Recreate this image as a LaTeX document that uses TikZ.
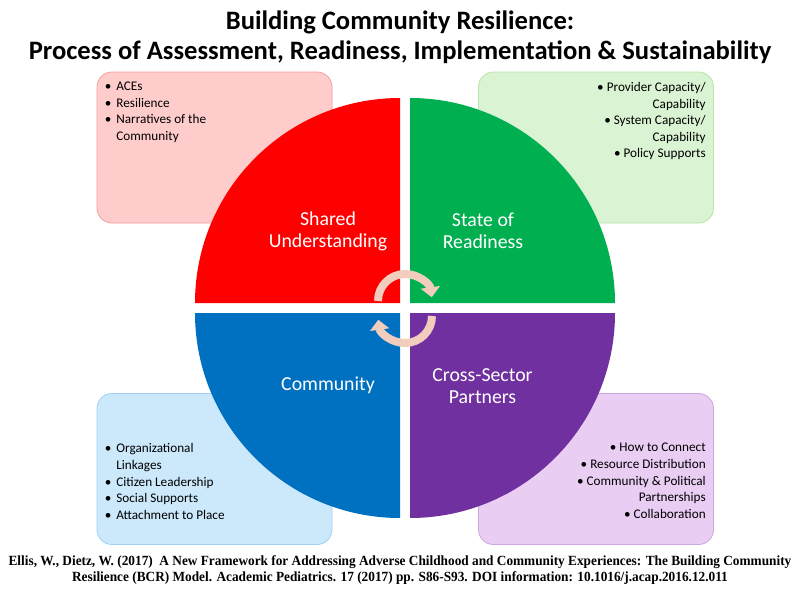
\documentclass[tikz,border=0pt]{standalone}
\usepackage{fontspec}
\setmainfont{Carlito}
\newfontfamily\citefont[FakeStretch=0.95]{Liberation Serif}
\usetikzlibrary{positioning, arrows.meta}

\definecolor{qred}{HTML}{FF0000}
\definecolor{qgreen}{HTML}{00B050}
\definecolor{qblue}{HTML}{0070C0}
\definecolor{qpurple}{HTML}{7030A0}
\definecolor{boxred}{HTML}{FFCCCC}
\definecolor{edgered}{HTML}{F4A0A0}
\definecolor{boxgreen}{HTML}{D9F3D3}
\definecolor{edgegreen}{HTML}{B8E6A8}
\definecolor{boxblue}{HTML}{CCE9FC}
\definecolor{edgeblue}{HTML}{9DD2F4}
\definecolor{boxpurple}{HTML}{E9CDF3}
\definecolor{edgepurple}{HTML}{CCA6DE}
\definecolor{arrowpeach}{HTML}{F2CDBE}

\tikzset{
  infobox/.style={rounded corners=15pt, minimum width=235pt, minimum height=151pt, line width=0.8pt, inner sep=0pt},
  itemlist/.style={inner sep=0pt, font=\fontsize{13.2}{16.6}\selectfont},
  quadlabel/.style={text=white, align=center, font=\fontsize{19.8}{22}\selectfont},
  cyclearrow/.style={line width=8pt, draw=arrowpeach, -{Triangle[width=19pt,length=10pt]}},
}

\begin{document}
\begin{tikzpicture}[x=1pt, y=1pt]
		\fill[white] (0,0) rectangle (800,-600);
		\useasboundingbox (0,0) rectangle (800,-600);

		% title
		\node[align=center, font=\bfseries\fontsize{26.6}{30}\selectfont] (title) at (400,-37)
			{Building Community Resilience:\\Process of Assessment, Readiness, Implementation \& Sustainability};

		% boxes behind the circle
		\node[infobox, fill=boxred, draw=edgered] (acesbox) at (214.5,-147.5) {};
		\node[infobox, fill=boxgreen, draw=edgegreen] (readybox) at (596,-147.5) {};
		\node[infobox, fill=boxblue, draw=edgeblue] (commbox) at (214.5,-469) {};
		\node[infobox, fill=boxpurple, draw=edgepurple] (partbox) at (596,-469) {};

		% four quarters
		\fill[qred] (400,-303) -- ++(-205,0) arc[start angle=180, end angle=90, radius=205] -- cycle;
		\fill[qgreen] (410,-303) -- ++(0,205) arc[start angle=90, end angle=0, radius=205] -- cycle;
		\fill[qblue] (400,-313) -- ++(-205,0) arc[start angle=180, end angle=270, radius=205] -- cycle;
		\fill[qpurple] (410,-313) -- ++(205,0) arc[start angle=0, end angle=-90, radius=205] -- cycle;

		\node[quadlabel] (shared) at (328,-231) {Shared\\Understanding};
		\node[quadlabel] (readiness) at (483,-231) {State of\\Readiness};
		\node[quadlabel] (community) at (328,-385) {Community};
		\node[quadlabel] (partners) at (482.5,-386) {Cross-Sector\\Partners};

		% cycle arrows
		\coordinate (topfoot) at (378,-301);
		\coordinate (botfoot) at (432,-316);
		\draw[cyclearrow] (topfoot) arc[start angle=180, end angle=8, radius=27];
		\draw[cyclearrow] (botfoot) arc[start angle=0, end angle=-172, radius=27];

		% lists
		\node[itemlist, below right=7pt and 8pt of acesbox.north west]
			(acesitems) {\begin{tabular}{@{}l@{\hspace{5pt}}l@{}}
				\textbullet & ACEs\\
				\textbullet & Resilience\\
				\textbullet & Narratives of the\\
				& Community
			\end{tabular}};
		\node[itemlist, below left=8pt and 8pt of readybox.north east]
			(readyitems) {\begin{tabular}{@{}r@{}}
				\textbullet\ Provider Capacity/\\
				Capability\\
				\textbullet\ System Capacity/\\
				Capability\\
				\textbullet\ Policy Supports
			\end{tabular}};
		\node[itemlist, below right=48pt and 8pt of commbox.north west]
			(commitems) {\begin{tabular}{@{}l@{\hspace{5pt}}l@{}}
				\textbullet & Organizational\\
				& Linkages\\
				\textbullet & Citizen Leadership\\
				\textbullet & Social Supports\\
				\textbullet & Attachment to Place
			\end{tabular}};
		\node[itemlist, below left=47pt and 8pt of partbox.north east]
			(partitems) {\begin{tabular}{@{}r@{}}
				\textbullet\ How to Connect\\
				\textbullet\ Resource Distribution\\
				\textbullet\ Community \& Political\\
				Partnerships\\
				\textbullet\ Collaboration
			\end{tabular}};

		% source
		\node[align=center, font=\citefont\bfseries\fontsize{14}{16.5}\selectfont] (source) at (400,-570)
			{Ellis, W., Dietz, W. (2017)\ \ A New Framework for Addressing Adverse Childhood and Community Experiences: The Building Community\\
			Resilience (BCR) Model. Academic Pediatrics. 17 (2017) pp. S86-S93. DOI information: 10.1016/j.acap.2016.12.011};
	\end{tikzpicture}
\end{document}
